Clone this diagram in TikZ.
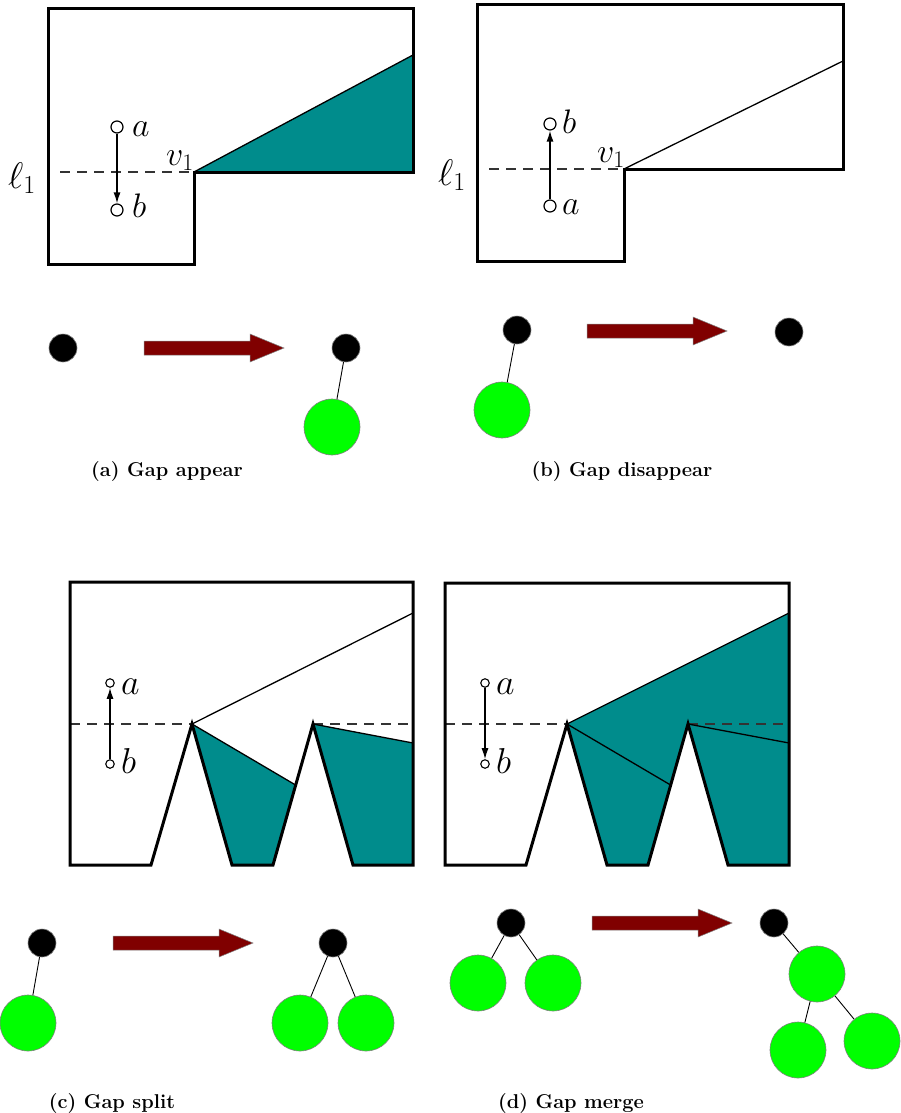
\RequirePackage{fix-cm}
\documentclass[tikz,border=0pt]{standalone}
\usetikzlibrary{arrows.meta,calc}
\definecolor{tealfill}{RGB}{0,140,140}
\definecolor{gapgreen}{RGB}{0,255,0}
\definecolor{arrowred}{RGB}{128,0,0}
\tikzset{
  wall/.style={line width=3pt, line join=miter},
  thinline/.style={line width=1.3pt},
  dashline/.style={line width=1.3pt, draw=black!80, dash pattern=on 10pt off 7pt},
  ptbig/.style={circle, draw, fill=white, line width=1.2pt, inner sep=0pt, minimum size=12pt},
  ptsmall/.style={circle, draw, fill=white, line width=1.1pt, inner sep=0pt, minimum size=8.5pt},
  move/.style={-{Latex[length=11pt,width=7pt]}, line width=1.3pt},
  labA/.style={font=\fontsize{34}{40}\selectfont, inner sep=0pt, anchor=base west},
  labL/.style={font=\fontsize{37}{44}\selectfont, inner sep=0pt, anchor=base west},
  labC/.style={font=\fontsize{36}{42}\selectfont, inner sep=0pt, anchor=base west},
  rootnode/.style={circle, fill=black, draw=gray, line width=0.6pt, minimum size=28pt, inner sep=0pt},
  gapnode/.style={circle, fill=gapgreen, draw=gray, line width=0.6pt, minimum size=56pt, inner sep=0pt},
  treeedge/.style={line width=0.9pt},
  captext/.style={font=\fontsize{20}{24}\selectfont\bfseries, inner sep=0pt, anchor=base},
  bigarrow/.pic={\path[fill=arrowred, draw=gray, line width=0.5pt]
     (0,-7) -- (106,-7) -- (106,-14) -- (140,0) -- (106,14) -- (106,7) -- (0,7) -- cycle;}
}
\begin{document}
\begin{tikzpicture}[x=1pt,y=-1pt]
\path[use as bounding box] (0,0) rectangle (900,1113);

%% ---------- Panel (a) ----------
\coordinate (aTL) at (48,9);
\coordinate (aTR) at (413,9);
\coordinate (aStep) at (413,172);
\coordinate (aV) at (194,172);
\coordinate (aIn) at (194,264);
\coordinate (aBL) at (48,264);
\coordinate (aW) at (413,55);
\coordinate (aD) at (60,172);
\fill[tealfill] (aV) -- (aW) -- (aStep) -- cycle;
\draw[thinline] (aV) -- (aW);
\draw[dashline] (aD) -- (aV);
\draw[wall] (aTL) -- (aTR) -- (aStep) -- (aV) -- (aIn) -- (aBL) -- cycle;
\node[ptbig] (aa) at (117,127) {};
\node[ptbig] (ab) at (117,210) {};
\draw[move] (aa) -- (ab);
\node[labA] (aaL) at (132,136) {$a$};
\node[labA] (abL) at (132,217) {$b$};
\node[labA] (avL) at (166,165) {$v_1$};
\node[labL] (alL) at (8,188) {$\ell_1$};

%% ---------- Panel (b) ----------
\coordinate (bTL) at (477,5);
\coordinate (bTR) at (843,5);
\coordinate (bStep) at (843,169);
\coordinate (bV) at (624,169);
\coordinate (bIn) at (624,261);
\coordinate (bBL) at (477,261);
\coordinate (bW) at (843,61);
\coordinate (bD) at (489,169);
\draw[thinline] (bV) -- (bW);
\draw[dashline] (bD) -- (bV);
\draw[wall] (bTL) -- (bTR) -- (bStep) -- (bV) -- (bIn) -- (bBL) -- cycle;
\node[ptbig] (bb) at (550,124) {};
\node[ptbig] (ba) at (550,206) {};
\draw[move] (ba) -- (bb);
\node[labA] (bbL) at (562,133) {$b$};
\node[labA] (baL) at (562,214) {$a$};
\node[labA] (bvL) at (597,162) {$v_1$};
\node[labL] (blL) at (438,185) {$\ell_1$};

%% ---------- Trees (a) ----------
\node[rootnode] (ar0) at (63,348) {};
\pic at (144,348) {bigarrow};
\node[rootnode] (ar1) at (346,348) {};
\node[gapnode] (ag1) at (332,427) {};
\draw[treeedge] (ar1) -- (ag1);
\node[captext] (capa) at (167,476) {(a) Gap appear};

%% ---------- Trees (b) ----------
\node[rootnode] (br0) at (517,330) {};
\node[gapnode] (bg0) at (502,410) {};
\draw[treeedge] (br0) -- (bg0);
\pic at (587,331) {bigarrow};
\node[rootnode] (br1) at (789,332) {};
\node[captext] (capb) at (622,476) {(b) Gap disappear};

%% ---------- Panel (c) ----------
\coordinate (cTL) at (70,582);
\coordinate (cTR) at (413,582);
\coordinate (cBR) at (413,865);
\coordinate (cQ1) at (353,865);
\coordinate (cP2) at (313,724);
\coordinate (cQ2) at (273,865);
\coordinate (cQ3) at (232,865);
\coordinate (cP1) at (192,724);
\coordinate (cQ4) at (151,865);
\coordinate (cBL) at (70,865);
\coordinate (cW1) at (413,613);
\coordinate (cW2) at (413,743);
\coordinate (cM) at ($(cQ2)!0.567!(cP2)$);
\coordinate (cDL) at (70,724);
\coordinate (cDR) at (413,724);
\fill[tealfill] (cP1) -- (cM) -- (cQ2) -- (cQ3) -- cycle;
\fill[tealfill] (cP2) -- (cW2) -- (cBR) -- (cQ1) -- cycle;
\draw[dashline] (cDL) -- (cP1);
\draw[dashline] (cP2) -- (cDR);
\draw[thinline] (cP1) -- (cW1);
\draw[thinline] (cP1) -- (cM);
\draw[thinline] (cP2) -- (cW2);
\draw[wall] (cTL) -- (cTR) -- (cBR) -- (cQ1) -- (cP2) -- (cQ2) -- (cQ3) -- (cP1) -- (cQ4) -- (cBL) -- cycle;
\node[ptsmall] (ca) at (110,683) {};
\node[ptsmall] (cb) at (110,764) {};
\draw[move] (cb) -- (ca);
\node[labC] (caL) at (121,694) {$a$};
\node[labC] (cbL) at (121,773) {$b$};

%% ---------- Panel (d) ----------
\coordinate (dTL) at (445,583);
\coordinate (dTR) at (789,583);
\coordinate (dBR) at (789,865);
\coordinate (dQ1) at (728,865);
\coordinate (dP2) at (688,724);
\coordinate (dQ2) at (648,865);
\coordinate (dQ3) at (607,865);
\coordinate (dP1) at (567,724);
\coordinate (dQ4) at (526,865);
\coordinate (dBL) at (445,865);
\coordinate (dW1) at (789,613);
\coordinate (dW2) at (789,743);
\coordinate (dM) at ($(dQ2)!0.567!(dP2)$);
\coordinate (dDL) at (445,724);
\coordinate (dDR) at (789,724);
\fill[tealfill] (dP1) -- (dW1) -- (dBR) -- (dQ1) -- (dP2) -- (dQ2) -- (dQ3) -- cycle;
\draw[dashline] (dDL) -- (dP1);
\draw[dashline] (dP2) -- (dDR);
\draw[thinline] (dP1) -- (dW1);
\draw[thinline] (dP1) -- (dM);
\draw[thinline] (dP2) -- (dW2);
\draw[wall] (dTL) -- (dTR) -- (dBR) -- (dQ1) -- (dP2) -- (dQ2) -- (dQ3) -- (dP1) -- (dQ4) -- (dBL) -- cycle;
\node[ptsmall] (da) at (485,683) {};
\node[ptsmall] (db) at (485,764) {};
\draw[move] (da) -- (db);
\node[labC] (daL) at (496,694) {$a$};
\node[labC] (dbL) at (496,773) {$b$};

%% ---------- Trees (c) ----------
\node[rootnode] (cr0) at (42,943) {};
\node[gapnode] (cg0) at (28,1023) {};
\draw[treeedge] (cr0) -- (cg0);
\pic at (113,943) {bigarrow};
\node[rootnode] (cr1) at (333,943) {};
\node[gapnode] (cg1) at (300,1023) {};
\node[gapnode] (cg2) at (366,1023) {};
\draw[treeedge] (cr1) -- (cg1);
\draw[treeedge] (cr1) -- (cg2);
\node[captext] (capc) at (112,1108) {(c) Gap split};

%% ---------- Trees (d) ----------
\node[rootnode] (dr0) at (511,923) {};
\node[gapnode] (dg0) at (478,983) {};
\node[gapnode] (dg1) at (553,983) {};
\draw[treeedge] (dr0) -- (dg0);
\draw[treeedge] (dr0) -- (dg1);
\pic at (592,923) {bigarrow};
\node[rootnode] (dr1) at (774,923) {};
\node[gapnode] (dg2) at (817,974) {};
\node[gapnode] (dg3) at (798,1050) {};
\node[gapnode] (dg4) at (872,1041) {};
\draw[treeedge] (dr1) -- (dg2);
\draw[treeedge] (dg2) -- (dg3);
\draw[treeedge] (dg2) -- (dg4);
\node[captext] (capd) at (571,1108) {(d) Gap merge};
\end{tikzpicture}
\end{document}
